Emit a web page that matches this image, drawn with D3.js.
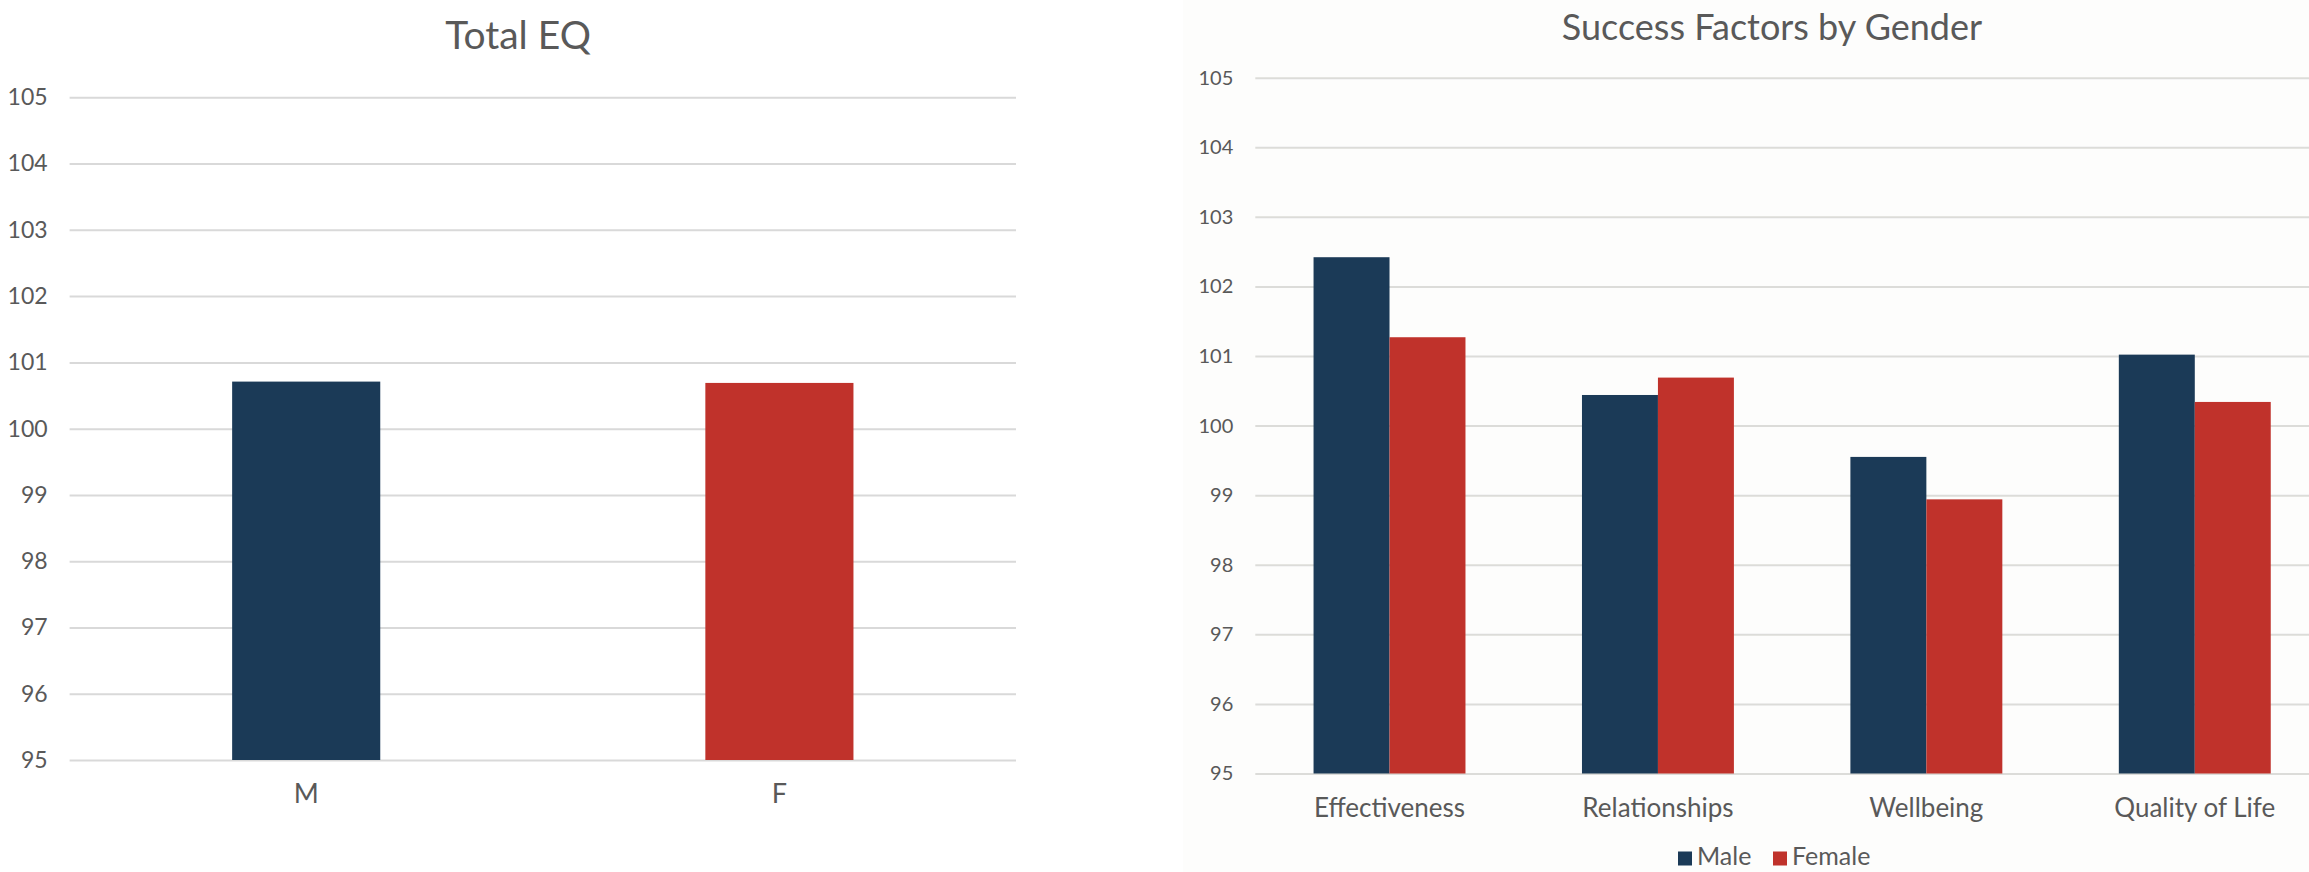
<!DOCTYPE html>
<html>
<head>
<meta charset="utf-8">
<script src="https://cdn.jsdelivr.net/npm/d3@7"></script>
<style>
  html, body { margin: 0; padding: 0; background: #fff; }
  svg { display: block; }
  text { font-family: Lato, "Open Sans", sans-serif; fill: #595959; }
</style>
</head>
<body>
<svg id="chart" width="2309" height="872"></svg>
<script>
// values
var eqGroups = ["M", "F"];
var eqValues = [100.71, 100.69];

var factors = ["Effectiveness", "Relationships", "Wellbeing", "Quality of Life"];
var genders = ["Male", "Female"];
var maleValues = [102.42, 100.44, 99.55, 101.02];
var femaleValues = [101.27, 100.69, 98.94, 100.34];

var yTicks = [95, 96, 97, 98, 99, 100, 101, 102, 103, 104, 105];

var navy = "#1b3a57", red = "#c0322b";
var barColor = d3.scaleOrdinal().domain(genders).range([navy, red]);

var svg = d3.select("#chart");

// very light panel behind the right chart
svg.append("rect").attr("x", 1183).attr("y", 0).attr("width", 2309 - 1183).attr("height", 872)
  .attr("fill", "#fdfdfc");

// ---------- left: Total EQ ----------
var left = svg.append("g");
var x1 = d3.scaleBand().domain(eqGroups).range([69.6, 1016]).paddingInner(0.687).paddingOuter(0.3435);
var y1 = d3.scaleLinear().domain([95, 105]).range([760, 97.3]);

left.append("g")
  .attr("transform", "translate(69.6,0)")
  .call(d3.axisLeft(y1).tickValues(yTicks).tickSize(-(1016 - 69.6)).tickPadding(22))
  .call(function (g) {
    g.select(".domain").remove();
    g.selectAll(".tick line").attr("stroke", "#d9d9d9").attr("stroke-width", 2);
    g.selectAll(".tick text").attr("font-size", 23).attr("fill", "#595959").attr("font-family", "Lato");
  });

left.selectAll("rect.bar").data(eqValues).enter().append("rect")
  .attr("class", "bar")
  .attr("x", function (d, i) { return x1(eqGroups[i]); })
  .attr("width", x1.bandwidth())
  .attr("y", function (d) { return y1(d); })
  .attr("height", function (d) { return y1(95) - y1(d); })
  .attr("fill", function (d, i) { return i == 0 ? navy : red; });

left.append("g")
  .attr("transform", "translate(0,760)")
  .call(d3.axisBottom(x1).tickSize(0).tickPadding(24))
  .call(function (g) {
    g.select(".domain").remove();
    g.selectAll("text").attr("font-size", 27).attr("fill", "#595959").attr("font-family", "Lato");
  });

left.append("text").attr("x", 518).attr("y", 49).attr("text-anchor", "middle")
  .attr("font-size", 39).attr("fill", "#3c3c3c").text("Total EQ");

// ---------- right: Success Factors by Gender ----------
var right = svg.append("g");
var x2 = d3.scaleBand().domain(factors).range([1255.3, 2329]).paddingInner(0.434).paddingOuter(0.217);
var xs = d3.scaleBand().domain(genders).range([0, x2.bandwidth()]);
var y2 = d3.scaleLinear().domain([95, 105]).range([773.5, 77.7]);

right.append("g")
  .attr("transform", "translate(1255.3,0)")
  .call(d3.axisLeft(y2).tickValues(yTicks).tickSize(-(2329 - 1255.3)).tickPadding(22))
  .call(function (g) {
    g.select(".domain").remove();
    g.selectAll(".tick line").attr("stroke", "#dcdcd9").attr("stroke-width", 2);
    g.selectAll(".tick text").attr("font-size", 20).attr("fill", "#595959").attr("font-family", "Lato");
  });

var rows = factors.map(function (f, i) {
  return { factor: f, Male: maleValues[i], Female: femaleValues[i] };
});

right.selectAll("g.grp").data(rows).enter().append("g")
  .attr("class", "grp")
  .attr("transform", function (d) { return "translate(" + x2(d.factor) + ",0)"; })
  .selectAll("rect").data(function (d) {
    return genders.map(function (k) { return { key: k, value: d[k] }; });
  }).enter().append("rect")
  .attr("x", function (d) { return xs(d.key); })
  .attr("width", xs.bandwidth())
  .attr("y", function (d) { return y2(d.value); })
  .attr("height", function (d) { return y2(95) - y2(d.value); })
  .attr("fill", function (d) { return barColor(d.key); });

right.append("g")
  .attr("transform", "translate(0,773.5)")
  .call(d3.axisBottom(x2).tickSize(0).tickPadding(25))
  .call(function (g) {
    g.select(".domain").remove();
    g.selectAll("text").attr("font-size", 26).attr("fill", "#595959").attr("font-family", "Lato");
  });

right.append("text").attr("x", 1772).attr("y", 40).attr("text-anchor", "middle")
  .attr("font-size", 36).attr("fill", "#3c3c3c").text("Success Factors by Gender");

// legend
var legend = right.append("g").attr("transform", "translate(1678,0)");
var lx = [0, 95];
genders.forEach(function (k, i) {
  var it = legend.append("g").attr("transform", "translate(" + lx[i] + ",0)");
  it.append("rect").attr("x", 0).attr("y", 851.5).attr("width", 14).attr("height", 14).attr("fill", barColor(k));
  it.append("text").attr("x", 19).attr("y", 865).attr("font-size", 25).text(k);
});
</script>
</body>
</html>
